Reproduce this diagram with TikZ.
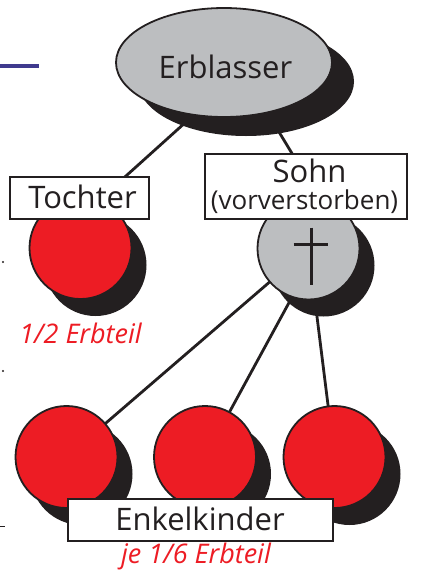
\documentclass[tikz,border=0pt]{standalone}
\usepackage{fontspec}
\setmainfont{Open Sans}
\usetikzlibrary{shapes.geometric,shadows,calc}
\definecolor{ink}{HTML}{231F20}
\definecolor{heirred}{HTML}{ED1C24}
\definecolor{deadgray}{HTML}{BCBEC0}
\definecolor{rulerblue}{HTML}{3F3A8E}
\pgfdeclarelayer{bg}
\pgfsetlayers{bg,main}
\tikzset{
  person/.style={circle, draw=ink, line width=1.8pt, minimum size=102pt, inner sep=0pt,
    drop shadow={shadow xshift=15pt, shadow yshift=-17pt, fill=ink, opacity=1}},
  living/.style={person, fill=heirred},
  deceased/.style={person, fill=deadgray},
  namebox/.style={draw=ink, fill=white, line width=1.8pt, inner sep=0pt},
  nametext/.style={text=ink, inner sep=0pt, anchor=base, font=\fontsize{31}{34}\selectfont},
  share/.style={text=heirred, inner sep=0pt, anchor=base, font=\fontsize{27}{30}\selectfont\itshape},
  link/.style={draw=ink, line width=2.8pt},
}
\begin{document}
\begin{tikzpicture}[x=1pt, y=-1pt]
\useasboundingbox (0,0) rectangle (422,574);

% margin marks
\draw[rulerblue, line width=4.6pt] (0,65.8) -- (39,65.8);
\fill[ink] (3,262) circle (1.1);
\fill[ink] (3,371) circle (1.1);
\draw[ink, line width=1pt] (0,526.5) -- (5,526.5);

% the deceased
\node[ellipse, draw=ink, fill=deadgray, line width=1.8pt, minimum width=216pt,
      minimum height=109pt, inner sep=0pt,
      drop shadow={shadow xshift=22pt, shadow yshift=-19pt, fill=ink, opacity=1}]
      (erb) at (224,62.5) {};
\node[nametext] (erbtext) at (225.5,78.5) {Erblasser};

% children
\node[living] (toch) at (80.5,248) {};
\node[deceased] (sohn) at (308.5,248.5) {};

% grandchildren
\node[living] (g1) at (66.5,457) {};
\node[living] (g2) at (205,457) {};
\node[living] (g3) at (334.5,457) {};

% cross on the predeceased son
\draw[ink, line width=3pt] ($(sohn.center)+(3,-21)$) -- ($(sohn.center)+(3,36)$);
\draw[ink, line width=3pt] ($(sohn.center)+(-15,-4)$) -- ($(sohn.center)+(19,-4)$);

% name boxes
\node[namebox, minimum width=139pt, minimum height=42pt] (tbox) at (79.5,198) {};
\node[nametext] (ttext) at (82.5,208) {Tochter};
\node[namebox, minimum width=202pt, minimum height=65pt] (sbox) at (306,186.5) {};
\node[nametext] (stext) at (309.5,182) {Sohn};
\node[nametext, font=\fontsize{26}{28}\selectfont] (vtext) at (304.5,209.5) {(vorverstorben)};
\node[namebox, minimum width=265pt, minimum height=42pt] (ebox) at (200.5,520) {};
\node[nametext] (etext) at (200,530) {Enkelkinder};

% shares
\node[share] (tshare) at (80.5,343) {1/2 Erbteil};
\node[share] (eshare) at (196,563) {je 1/6 Erbteil};

% family lines
\begin{pgfonlayer}{bg}
  \draw[link] ([xshift=28pt]erb.center) -- ([xshift=22pt]tbox.center);
  \draw[link] ([xshift=13pt]erb.center) -- ([xshift=6pt]sbox.center);
  \draw[link] (sohn.center) -- (g1.center);
  \draw[link] ([xshift=10pt]sohn.center) -- (g2.center);
  \draw[link] (sohn.center) -- (g3.center);
\end{pgfonlayer}
\end{tikzpicture}
\end{document}
